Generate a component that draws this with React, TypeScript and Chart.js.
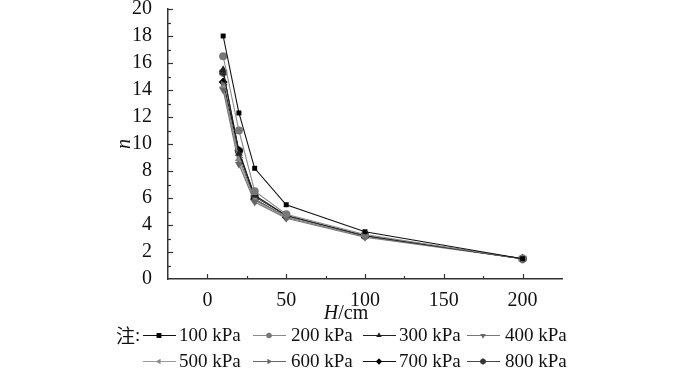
import React, { useEffect, useRef } from "react";
import { Chart, registerables } from "chart.js";

Chart.register(...registerables);

// ---- data ----
const H_CM = [10, 20, 30, 50, 100, 200];
const N_100 = [18.0, 12.3, 8.2, 5.5, 3.5, 1.5];
const N_200 = [16.5, 11.0, 6.5, 4.8, 3.3, 1.5];
const N_300 = [15.5, 9.3, 6.2, 4.7, 3.2, 1.5];
const N_400 = [14.0, 8.5, 5.7, 4.5, 3.1, 1.5];
const N_500 = [14.2, 8.8, 5.8, 4.6, 3.2, 1.5];
const N_600 = [14.4, 9.0, 5.9, 4.6, 3.2, 1.5];
const N_700 = [14.6, 9.5, 5.9, 4.6, 3.2, 1.5];
const N_800 = [15.3, 9.5, 6.1, 4.7, 3.2, 1.5];
const SERIES = [N_100, N_200, N_300, N_400, N_500, N_600, N_700, N_800];
const SERIES_LABELS = ["100 kPa", "200 kPa", "300 kPa", "400 kPa", "500 kPa", "600 kPa", "700 kPa", "800 kPa"];
const X_TICKS = [0, 50, 100, 150, 200];
const X_MINOR = [25, 75, 125, 175];
const Y_TICKS = [0, 2, 4, 6, 8, 10, 12, 14, 16, 18, 20];
const Y_MINOR = [1, 3, 5, 7, 9, 11, 13, 15, 17, 19];
const X_TITLE_ITALIC = "H";
const X_TITLE_REST = "/cm";
const Y_TITLE = "n";
const NOTE = "注:";

// ---- styles ----
const LINE_COLORS = ["#111", "#8a8a8a", "#222", "#777", "#9a9a9a", "#666", "#111", "#444"];
const MARK_COLORS = ["#000", "#777", "#222", "#666", "#8a8a8a", "#666", "#000", "#333"];
const MARKS = ["rect", "circle", "triangle", "triangle", "triangle", "triangle", "rectRot", "hex"];
const ROTS = [0, 0, 0, 180, 270, 90, 0, 0];
const RADII = [3.5, 4, 4.5, 4.5, 4.5, 4.5, 4.5, 4.5];

const SERIF = "'Liberation Serif', 'Times New Roman', serif";

function makeHex(color: string) {
  const c = document.createElement("canvas");
  c.width = 10;
  c.height = 10;
  const g = c.getContext("2d")!;
  g.fillStyle = color;
  g.beginPath();
  for (let i = 0; i < 6; i++) {
    const a = (Math.PI / 3) * i + Math.PI / 6;
    const px = 5 + 4.6 * Math.cos(a);
    const py = 5 + 4.6 * Math.sin(a);
    if (i === 0) g.moveTo(px, py);
    else g.lineTo(px, py);
  }
  g.closePath();
  g.fill();
  return c;
}

function drawMarker(ctx: CanvasRenderingContext2D, style: string, x: number, y: number, r: number, rot: number, color: string) {
  ctx.save();
  ctx.translate(x, y);
  ctx.rotate((rot * Math.PI) / 180);
  ctx.fillStyle = color;
  ctx.beginPath();
  if (style === "rect") {
    ctx.rect(-r, -r, 2 * r, 2 * r);
  } else if (style === "circle") {
    ctx.arc(0, 0, r, 0, Math.PI * 2);
  } else if (style === "triangle") {
    for (let i = 0; i < 3; i++) {
      const a = -Math.PI / 2 + (i * 2 * Math.PI) / 3;
      const px = r * Math.cos(a);
      const py = r * Math.sin(a);
      if (i === 0) ctx.moveTo(px, py);
      else ctx.lineTo(px, py);
    }
    ctx.closePath();
  } else if (style === "rectRot") {
    ctx.moveTo(0, -r);
    ctx.lineTo(r, 0);
    ctx.lineTo(0, r);
    ctx.lineTo(-r, 0);
    ctx.closePath();
  } else {
    for (let i = 0; i < 6; i++) {
      const a = (Math.PI / 3) * i + Math.PI / 6;
      const px = r * Math.cos(a);
      const py = r * Math.sin(a);
      if (i === 0) ctx.moveTo(px, py);
      else ctx.lineTo(px, py);
    }
    ctx.closePath();
  }
  ctx.fill();
  ctx.restore();
}

const decorPlugin = {
  id: "decor",
  afterDraw(chart: any) {
    const ctx: CanvasRenderingContext2D = chart.ctx;
    const xs = chart.scales.x;
    const ys = chart.scales.y;
    const area = chart.chartArea;
    ctx.save();
    ctx.strokeStyle = "#333";
    ctx.lineWidth = 1.2;
    // inward ticks
    const tick = (vals: number[], len: number, axis: "x" | "y") => {
      vals.forEach((v) => {
        ctx.beginPath();
        if (axis === "x") {
          const px = Math.round(xs.getPixelForValue(v)) + 0.5;
          ctx.moveTo(px, area.bottom);
          ctx.lineTo(px, area.bottom - len);
        } else {
          const py = Math.round(ys.getPixelForValue(v)) + 0.5;
          ctx.moveTo(area.left, py);
          ctx.lineTo(area.left + len, py);
        }
        ctx.stroke();
      });
    };
    tick(X_TICKS, 5, "x");
    tick(X_MINOR, 3, "x");
    tick(Y_TICKS.filter((v) => v !== 0), 5, "y");
    tick(Y_MINOR, 3, "y");

    // axis titles
    ctx.fillStyle = "#111";
    ctx.textBaseline = "middle";
    ctx.save();
    ctx.translate(125, (area.top + area.bottom) / 2);
    ctx.rotate(-Math.PI / 2);
    ctx.textAlign = "center";
    ctx.font = `italic 20px ${SERIF}`;
    ctx.fillText(Y_TITLE, 0, 0);
    ctx.restore();

    ctx.textAlign = "left";
    ctx.font = `italic 20px ${SERIF}`;
    const wH = ctx.measureText(X_TITLE_ITALIC).width;
    ctx.font = `20px ${SERIF}`;
    const wR = ctx.measureText(X_TITLE_REST).width;
    const x0 = 346 - (wH + wR) / 2;
    ctx.font = `italic 20px ${SERIF}`;
    ctx.fillText(X_TITLE_ITALIC, x0, 314);
    ctx.font = `20px ${SERIF}`;
    ctx.fillText(X_TITLE_REST, x0 + wH, 314);

    // legend
    ctx.font = `19px 'Noto Sans CJK SC', ${SERIF}`;
    ctx.fillText(NOTE.slice(0, 1), 116, 336);
    const wN = ctx.measureText(NOTE.slice(0, 1)).width;
    ctx.font = `19px ${SERIF}`;
    ctx.fillText(NOTE.slice(1), 116 + wN, 336);
    const lineStart = [143, 253, 363, 467];
    const textX = [179, 291, 399, 505];
    const rowY = [335, 361];
    SERIES_LABELS.forEach((lab, i) => {
      const col = i % 4;
      const row = Math.floor(i / 4);
      const y = rowY[row];
      ctx.strokeStyle = LINE_COLORS[i];
      ctx.lineWidth = 1.2;
      ctx.beginPath();
      ctx.moveTo(lineStart[col], y + 0.5);
      ctx.lineTo(lineStart[col] + 33, y + 0.5);
      ctx.stroke();
      drawMarker(ctx, MARKS[i], lineStart[col] + 16, y + 0.5, RADII[i] * 0.7, ROTS[i], MARK_COLORS[i]);
      ctx.fillStyle = "#111";
      ctx.font = `19px ${SERIF}`;
      ctx.fillText(lab, textX[col], y + 1);
    });
    ctx.restore();
  },
};

export default function App() {
  const ref = useRef<HTMLCanvasElement | null>(null);
  useEffect(() => {
    if (!ref.current) return;
    const hex = makeHex(MARK_COLORS[7]);
    const datasets = SERIES.map((vals, i) => ({
      label: SERIES_LABELS[i],
      data: H_CM.map((h, k) => ({ x: h, y: vals[k] })),
      borderColor: LINE_COLORS[i],
      backgroundColor: MARK_COLORS[i],
      borderWidth: 1.1,
      pointStyle: MARKS[i] === "hex" ? (hex as any) : MARKS[i],
      pointRotation: ROTS[i],
      pointRadius: RADII[i],
      pointBorderWidth: 0,
      pointBackgroundColor: MARK_COLORS[i],
      pointBorderColor: MARK_COLORS[i],
      tension: 0,
    }));
    const chart = new Chart(ref.current, {
      type: "line",
      data: { datasets: datasets as any },
      options: {
        responsive: false,
        animation: false,
        layout: { padding: { left: 0, right: 138, top: 9, bottom: 0 } },
        plugins: { legend: { display: false }, tooltip: { enabled: false } },
        scales: {
          x: {
            type: "linear",
            min: -25,
            max: 225,
            grid: { display: false },
            border: { display: true, color: "#333", width: 1.5 },
            afterBuildTicks: (s: any) => {
              s.ticks = X_TICKS.map((v) => ({ value: v }));
            },
            afterFit: (s: any) => {
              s.height = 89;
              s.paddingLeft = 0;
              s.paddingRight = 0;
            },
            ticks: {
              color: "#111",
              padding: 5,
              maxRotation: 0,
              font: { family: SERIF, size: 20, lineHeight: 0.9 },
            },
          },
          y: {
            type: "linear",
            min: 0,
            max: 20,
            grid: { display: false },
            border: { display: true, color: "#333", width: 1.5 },
            afterBuildTicks: (s: any) => {
              s.ticks = Y_TICKS.map((v) => ({ value: v }));
            },
            afterFit: (s: any) => {
              s.width = 168;
              s.paddingTop = 0;
              s.paddingBottom = 0;
            },
            ticks: {
              color: "#111",
              padding: 8,
              font: { family: SERIF, size: 20, lineHeight: 0.9 },
            },
          },
        },
      },
      plugins: [decorPlugin],
    });
    return () => chart.destroy();
  }, []);
  return (
    <div style={{ position: "absolute", left: 0, top: 0, width: 700, height: 368, background: "#fff" }}>
      <canvas ref={ref} width={700} height={368} style={{ width: 700, height: 368 }} />
    </div>
  );
}
